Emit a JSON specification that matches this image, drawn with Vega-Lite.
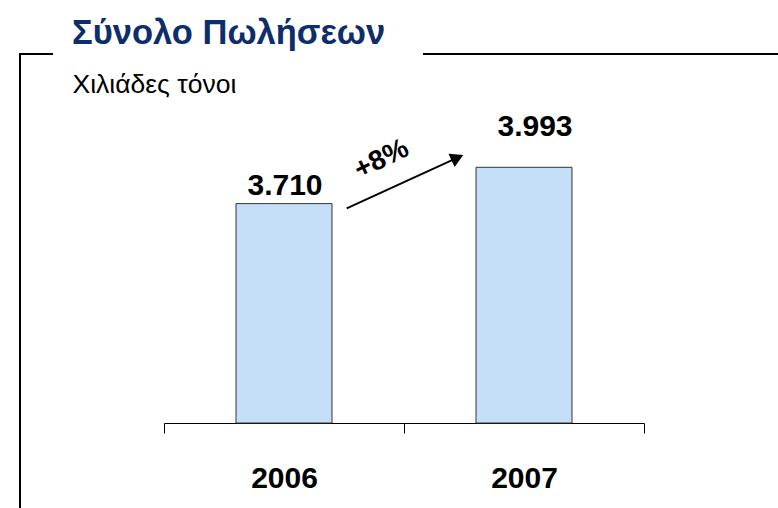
{
  "$schema": "https://vega.github.io/schema/vega-lite/v6.json",
  "autosize": "none",
  "width": 758,
  "height": 454,
  "padding": {"left": 20, "top": 54, "right": 0, "bottom": 0},
  "background": "white",
  "title": {
    "text": "Σύνολο Πωλήσεων",
    "anchor": "start",
    "frame": "group",
    "dx": 52,
    "offset": 3,
    "font": "Liberation Sans",
    "fontSize": 34.5,
    "fontWeight": "bold",
    "color": "#0d2e6b"
  },
  "config": {
    "font": "Liberation Sans",
    "locale": {"number": {"decimal": ",", "thousands": ".", "grouping": [3], "currency": ["", " €"]}},
    "view": {"stroke": "black", "strokeWidth": 2, "strokeDash": [33, 370, 355, 1212, 454], "fill": "white"}
  },
  "datasets": {
    "sales": [
      {"year": "2006", "sales": 3710},
      {"year": "2007", "sales": 3993}
    ],
    "growth": [
      {"from": "2006", "to": "2007", "start": 3710, "end": 3993, "change": "+8%"}
    ]
  },
  "layer": [
    {
      "data": {"name": "sales"},
      "mark": {"type": "bar", "fill": "#c6dff8", "stroke": "#333333", "strokeWidth": 1, "width": {"band": 0.4}},
      "encoding": {
        "x": {
          "field": "year", "type": "nominal",
          "scale": {"range": [144, 624], "paddingInner": 0, "paddingOuter": 0},
          "axis": {
            "title": null, "orient": "bottom", "offset": -85,
            "tickBand": "extent", "tickSize": 10, "tickColor": "black", "tickWidth": 1,
            "domainColor": "black", "domainWidth": 1,
            "labelAngle": 0, "labelFontSize": 30, "labelFontWeight": "bold", "labelColor": "black",
            "labelBaseline": "alphabetic", "labelPadding": 54, "grid": false
          }
        },
        "y": {
          "field": "sales", "type": "quantitative",
          "scale": {"domain": [2000, 4500], "range": [369, 48.25], "zero": false, "nice": false},
          "axis": {
            "title": "Χιλιάδες τόνοι", "labels": false, "ticks": false, "domain": false, "grid": false,
            "titleAngle": 0, "titleX": 52, "titleY": 38, "titleAlign": "left", "titleBaseline": "alphabetic",
            "titleFontSize": 26.5, "titleFontWeight": "normal", "titleColor": "black"
          }
        },
        "y2": {"datum": 2000}
      }
    },
    {
      "data": {"name": "sales"},
      "transform": [{"filter": "datum.year == '2006'"}],
      "mark": {"type": "text", "fontSize": 30, "fontWeight": "bold", "color": "black", "baseline": "alphabetic", "align": "center", "yOffset": -9, "xOffset": 1},
      "encoding": {
        "x": {"field": "year", "type": "nominal"},
        "y": {"field": "sales", "type": "quantitative"},
        "text": {"field": "sales", "type": "quantitative", "format": ",d"}
      }
    },
    {
      "data": {"name": "sales"},
      "transform": [{"filter": "datum.year == '2007'"}],
      "mark": {"type": "text", "fontSize": 30, "fontWeight": "bold", "color": "black", "baseline": "alphabetic", "align": "center", "yOffset": -31.5, "xOffset": 11},
      "encoding": {
        "x": {"field": "year", "type": "nominal"},
        "y": {"field": "sales", "type": "quantitative"},
        "text": {"field": "sales", "type": "quantitative", "format": ",d"}
      }
    },
    {
      "data": {"name": "growth"},
      "mark": {"type": "rule", "color": "black", "strokeWidth": 2, "xOffset": 62.7, "x2Offset": -67, "yOffset": 4.7, "y2Offset": -9.4},
      "encoding": {
        "x": {"field": "from", "type": "nominal"},
        "x2": {"field": "to"},
        "y": {"field": "start", "type": "quantitative"},
        "y2": {"field": "end"}
      }
    },
    {
      "data": {"name": "growth"},
      "mark": {"type": "point", "shape": "triangle-right", "filled": true, "fill": "black", "stroke": null, "opacity": 1, "size": 220, "angle": 335.4, "xOffset": -66.6, "yOffset": -9.6},
      "encoding": {
        "x": {"field": "to", "type": "nominal"},
        "y": {"field": "end", "type": "quantitative"}
      }
    },
    {
      "data": {"name": "growth"},
      "mark": {"type": "text", "fontSize": 28, "fontWeight": "bold", "color": "black", "angle": 334, "align": "center", "baseline": "middle", "xOffset": 97.7, "yOffset": -44},
      "encoding": {
        "x": {"field": "from", "type": "nominal"},
        "y": {"field": "start", "type": "quantitative"},
        "text": {"field": "change"}
      }
    }
  ]
}
